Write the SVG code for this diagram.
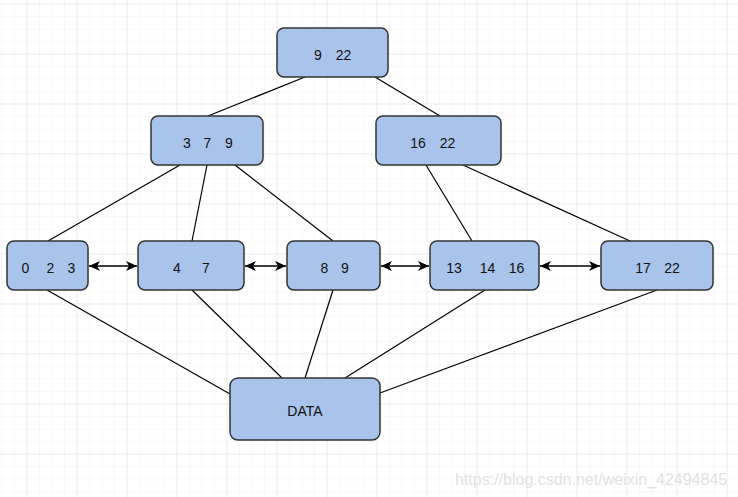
<svg xmlns="http://www.w3.org/2000/svg" width="738" height="497" viewBox="0 0 738 497">
<defs>
<pattern id="minor" width="12.5" height="12.5" patternUnits="userSpaceOnUse" x="1.5" y="3.5">
<path d="M0 0 H12.5 M0 0 V12.5" fill="none" stroke="#f1f1f1" stroke-width="1"/>
</pattern>
<pattern id="major" width="50" height="50" patternUnits="userSpaceOnUse" x="26.5" y="3.5">
<path d="M0 0 H50 M0 0 V50" fill="none" stroke="#e0e0e0" stroke-width="1"/>
</pattern>
<marker id="ah" viewBox="0 0 12 12" refX="11" refY="6" markerWidth="12" markerHeight="12" markerUnits="userSpaceOnUse" orient="auto-start-reverse">
<path d="M0 1 L11 6 L0 11 L3 6 Z" fill="#000"/>
</marker>
</defs>
<style>
.node rect{fill:#A9C4EB;stroke:#333;stroke-width:1.5}
.node text{font-family:"Liberation Sans",Arial,sans-serif;font-size:14px;fill:#111;text-anchor:middle}
.edges line{stroke:#000;stroke-width:1.2}
.arrows line{stroke:#000;stroke-width:1.5;marker-start:url(#ah);marker-end:url(#ah)}
.wm{font-family:"Liberation Sans",Arial,sans-serif;font-size:16px;fill:#e2e2e2}
</style>
<rect width="738" height="497" fill="#fff"/>
<rect width="738" height="497" fill="url(#minor)"/>
<rect width="738" height="497" fill="url(#major)"/>
<g class="edges">
<line x1="305" y1="77" x2="208" y2="116"/>
<line x1="375" y1="77" x2="440" y2="116"/>
<line x1="180" y1="165" x2="48" y2="241"/>
<line x1="207" y1="165" x2="192" y2="241"/>
<line x1="235" y1="165" x2="333" y2="241"/>
<line x1="426" y1="165" x2="472" y2="241"/>
<line x1="463" y1="165" x2="630" y2="241"/>
<line x1="47" y1="290" x2="230" y2="394"/>
<line x1="192" y1="290" x2="282" y2="378"/>
<line x1="333" y1="290" x2="305" y2="378"/>
<line x1="485" y1="290" x2="345" y2="378"/>
<line x1="657" y1="290" x2="380" y2="393"/>
</g>
<g class="arrows">
<line x1="89" y1="266" x2="137" y2="266"/>
<line x1="245" y1="266" x2="286" y2="266"/>
<line x1="381" y1="266" x2="429" y2="266"/>
<line x1="540" y1="266" x2="600" y2="266"/>
</g>
<g id="n_9_22" class="node"><rect x="277" y="28" width="111" height="49" rx="7"/><text y="60"><tspan x="318">9</tspan><tspan x="343.5">22</tspan></text></g>
<g id="n_3_7_9" class="node"><rect x="151" y="116" width="112" height="49" rx="7"/><text y="148"><tspan x="187">3</tspan><tspan x="207.5">7</tspan><tspan x="229">9</tspan></text></g>
<g id="n_16_22" class="node"><rect x="376" y="116" width="125" height="49" rx="7"/><text y="148"><tspan x="418">16</tspan><tspan x="447.5">22</tspan></text></g>
<g id="n_0_2_3" class="node"><rect x="7" y="241" width="81" height="49" rx="7"/><text y="273"><tspan x="25.5">0</tspan><tspan x="50.5">2</tspan><tspan x="71.5">3</tspan></text></g>
<g id="n_4_7" class="node"><rect x="138" y="241" width="106" height="49" rx="7"/><text y="273"><tspan x="177">4</tspan><tspan x="206">7</tspan></text></g>
<g id="n_8_9" class="node"><rect x="287" y="241" width="93" height="49" rx="7"/><text y="273"><tspan x="324.5">8</tspan><tspan x="345">9</tspan></text></g>
<g id="n_13_14_16" class="node"><rect x="430" y="241" width="109" height="49" rx="7"/><text y="273"><tspan x="454">13</tspan><tspan x="487.5">14</tspan><tspan x="516.5">16</tspan></text></g>
<g id="n_17_22" class="node"><rect x="601" y="241" width="112" height="49" rx="7"/><text y="273"><tspan x="643">17</tspan><tspan x="672">22</tspan></text></g>
<g id="n_data" class="node"><rect x="230" y="378" width="150" height="62" rx="8"/><text x="305" y="416">DATA</text></g>
<text class="wm" x="455" y="485">https://blog.csdn.net/weixin_42494845</text>
</svg>
